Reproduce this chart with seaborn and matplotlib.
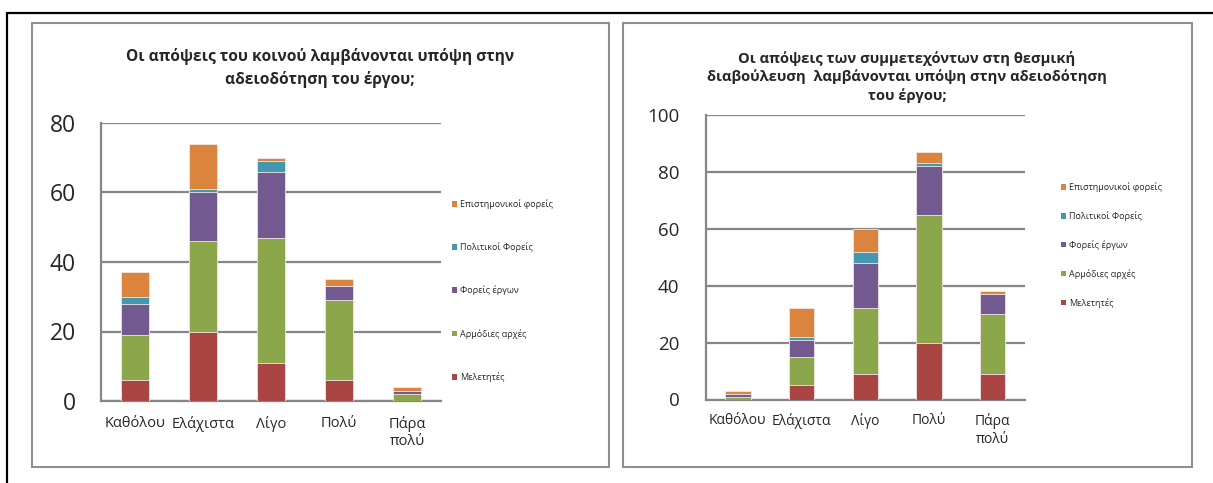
import numpy as np
import pandas as pd
import matplotlib
matplotlib.use("Agg")
import matplotlib.pyplot as plt
from matplotlib.patches import Patch, Rectangle
from matplotlib.lines import Line2D
import seaborn as sns

# categories (x axis) and stacked series
categories = ["Καθόλου", "Ελάχιστα", "Λίγο", "Πολύ", "Πάρα\nπολύ"]
series = ["Μελετητές", "Αρμόδιες αρχές", "Φορείς έργων", "Πολιτικοί Φορείς", "Επιστημονικοί φορείς"]

# left chart: public's opinion
left_meletites = [6, 20, 11, 6, 0]
left_armodies = [13, 26, 36, 23, 2]
left_foreis_ergon = [9, 14, 19, 4, 1]
left_politikoi = [2, 1, 3, 0, 0]
left_epistimonikoi = [7, 13, 1, 2, 1]

# right chart: participants of the institutional consultation
right_meletites = [0, 5, 9, 20, 9]
right_armodies = [1, 10, 23, 45, 21]
right_foreis_ergon = [1, 6, 16, 17, 7]
right_politikoi = [0, 1, 4, 1, 0]
right_epistimonikoi = [1, 10, 8, 4, 1]

left_title = "Οι απόψεις του κοινού λαμβάνονται υπόψη στην\nαδειοδότηση του έργου;"
right_title = ("Οι απόψεις των συμμετεχόντων στη θεσμική\n"
               "διαβούλευση  λαμβάνονται υπόψη στην αδειοδότηση\nτου έργου;")

colors = ["#A94644", "#8BA64B", "#72598F", "#4298AF", "#DB843D"]
GRID = "#868686"

sns.set_style("white")
plt.rcParams["font.family"] = ["Open Sans", "Noto Sans", "DejaVu Sans"]

W, H = 1213, 483
fig = plt.figure(figsize=(W / 100, H / 100), dpi=100)


def fx(px):
    return px / W


def fy(py):
    return 1 - py / H


# outer black frame and the two grey chart boxes
fig.add_artist(Line2D([fx(7), 1.0], [fy(13), fy(13)], color="black", lw=1.6))
fig.add_artist(Line2D([fx(7), fx(7)], [fy(13), 0.0], color="black", lw=1.6))
for x0, x1 in [(32, 609), (623, 1192)]:
    fig.add_artist(Rectangle((fx(x0), fy(467)), fx(x1 - x0), (467 - 23) / H,
                             fill=False, edgecolor="#8f8f8f", lw=1.5))


def stacked(ax, cols, ymax, ystep):
    df = pd.DataFrame(dict(zip(series, cols)), index=categories)
    cum = df.cumsum(axis=1)
    for name, col in reversed(list(zip(series, colors))):
        sns.barplot(x=list(categories), y=cum[name].values, order=categories,
                    color=col, saturation=1, width=0.4, edgecolor="#f3e6e6",
                    linewidth=0.6, ax=ax, zorder=3)
    ax.set_ylim(0, ymax)
    ax.set_xlim(-0.5, len(categories) - 0.5)
    ax.set_yticks(np.arange(0, ymax + 1, ystep))
    ax.yaxis.grid(True, color=GRID, lw=1.6)
    ax.set_axisbelow(True)
    for s in ["top", "right"]:
        ax.spines[s].set_visible(False)
    for s in ["left", "bottom"]:
        ax.spines[s].set_color(GRID)
        ax.spines[s].set_linewidth(1.6)
    ax.set_xlabel("")
    ax.set_ylabel("")


# left chart
axL = fig.add_axes([fx(101), fy(401), fx(340), (401 - 123) / H])
stacked(axL, [left_meletites, left_armodies, left_foreis_ergon, left_politikoi, left_epistimonikoi], 80, 20)
axL.tick_params(axis="y", length=0, pad=18, labelsize=16.5)
axL.tick_params(axis="x", length=0, pad=11, labelsize=10.5)

# right chart
axR = fig.add_axes([fx(706), fy(399.5), fx(318.5), (399.5 - 115) / H])
stacked(axR, [right_meletites, right_armodies, right_foreis_ergon, right_politikoi, right_epistimonikoi], 100, 20)
axR.tick_params(axis="y", length=5, width=1.5, color=GRID, pad=14, labelsize=13.5)
axR.tick_params(axis="x", which="major", length=0, pad=10, labelsize=10)
axR.set_xticks(np.arange(-0.5, len(categories), 1), minor=True)
axR.tick_params(axis="x", which="minor", length=4, width=1.5, color=GRID, direction="out")

fig.text(fx(320), fy(68), left_title, ha="center", va="center",
         fontsize=11.2, fontweight="bold", linespacing=1.45)
fig.text(fx(907), fy(77), right_title, ha="center", va="center",
         fontsize=10.6, fontweight="bold", linespacing=1.35)

handles = [Patch(facecolor=c, edgecolor="none") for c in colors]
labels = list(series)
fig.legend(handles[::-1], labels[::-1], loc="upper left",
           bbox_to_anchor=(fx(452), fy(199)), frameon=False, fontsize=6.5,
           handlelength=0.6, handleheight=0.6, handletextpad=0.3,
           labelspacing=3.7, borderaxespad=0, borderpad=0)
fig.legend(handles[::-1], labels[::-1], loc="upper left",
           bbox_to_anchor=(fx(1061), fy(182)), frameon=False, fontsize=6.5,
           handlelength=0.6, handleheight=0.6, handletextpad=0.3,
           labelspacing=2.12, borderaxespad=0, borderpad=0)

fig.savefig("out.png", dpi=100)
